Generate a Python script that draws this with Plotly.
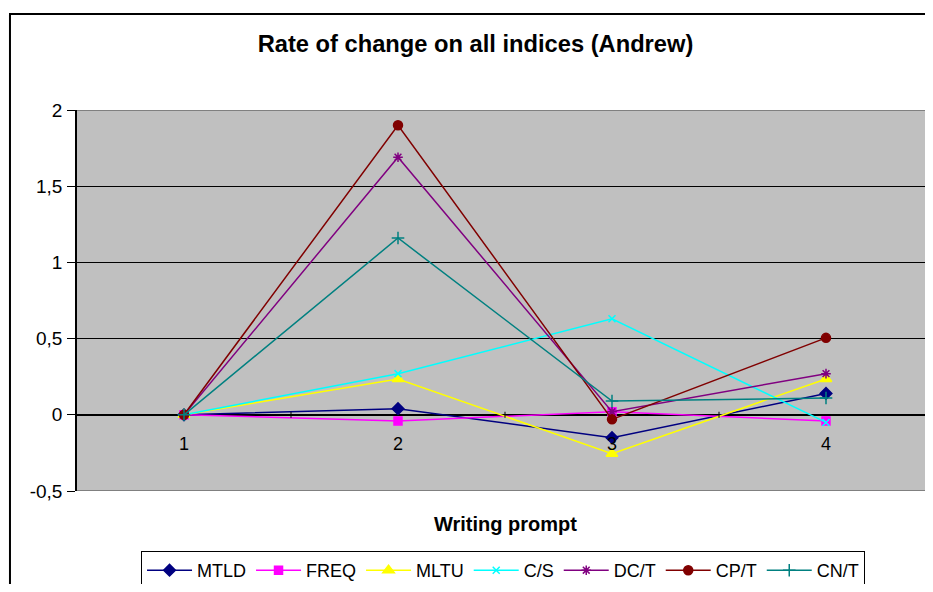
import plotly.graph_objects as go

# writing prompts (categories)
prompts = [1, 2, 3, 4]

# rate of change per index
mtld = [0.0, 0.04, -0.15, 0.14]
freq = [0.0, -0.04, 0.02, -0.04]
mltu = [0.0, 0.235, -0.255, 0.235]
c_s = [0.0, 0.27, 0.63, -0.05]
dc_t = [0.0, 1.69, 0.02, 0.27]
cp_t = [0.0, 1.90, -0.03, 0.505]
cn_t = [0.0, 1.16, 0.09, 0.11]

y_ticks = [-0.5, 0, 0.5, 1, 1.5, 2]
y_tick_text = ["-0,5", "0", "0,5", "1", "1,5", "2"]

FONT = "Liberation Sans, Arial, sans-serif"

series = [
    ("MTLD", mtld, "#000080", "diamond", 9),
    ("FREQ", freq, "#FF00FF", "square", 8),
    ("MLTU", mltu, "#FFFF00", "triangle-up", 10),
    ("C/S", c_s, "#00FFFF", "x-thin-open", 7),
    ("DC/T", dc_t, "#800080", "asterisk-open", 8),
    ("CP/T", cp_t, "#800000", "circle", 9),
    ("CN/T", cn_t, "#008080", "cross-thin-open", 9),
]

fig = go.Figure()
for name, vals, color, sym, size in series:
    fig.add_trace(go.Scatter(
        x=prompts, y=vals, name=name, mode="lines+markers",
        line=dict(color=color, width=1.5),
        marker=dict(symbol=sym, size=size, color=color,
                    line=dict(color=color, width=1.5)),
    ))

shapes = []
# small tick marks crossing the zero line between categories
for a, b in zip(prompts[:-1], prompts[1:]):
    mid = (a + b) / 2
    shapes.append(dict(type="line", xref="x", yref="y", x0=mid, x1=mid,
                       y0=-0.02, y1=0.02, line=dict(color="black", width=1)))
# gray top / bottom border of plot area
for yv in (y_ticks[0], y_ticks[-1]):
    shapes.append(dict(type="line", xref="paper", yref="y", x0=0, x1=1,
                       y0=yv, y1=yv, line=dict(color="#808080", width=2)))
# outer chart border
shapes.append(dict(type="rect", xref="paper", yref="paper",
                   x0=-0.0783, x1=1.05, y0=-0.4, y1=1.252,
                   line=dict(color="black", width=2), layer="below"))

annotations = [
    dict(x=p, y=0, xref="x", yref="y", text=str(p), showarrow=False,
         yshift=-29, font=dict(size=18, color="black", family=FONT))
    for p in prompts
]
annotations.append(dict(x=0.5, y=-0.0866, xref="paper", yref="paper",
                        text="<b>Writing prompt</b>", showarrow=False,
                        yanchor="middle",
                        font=dict(size=20, color="black", family=FONT)))

fig.update_layout(
    width=925, height=576,
    margin=dict(l=69, r=0, t=102, b=93, autoexpand=False),
    paper_bgcolor="white", plot_bgcolor="#C0C0C0",
    font=dict(family=FONT, color="black"),
    title=dict(text="<b>Rate of change on all indices (Andrew)</b>",
               x=467.5 / 925, xref="container", xanchor="center",
               y=1 - 36 / 576, yref="container", yanchor="middle",
               font=dict(size=23.7, color="black", family=FONT)),
    xaxis=dict(range=[0.5, 4.5], showgrid=False, zeroline=False,
               showticklabels=False, ticks="", fixedrange=True),
    yaxis=dict(range=[-0.5, 2], tickvals=y_ticks, ticktext=y_tick_text,
               showgrid=True, gridcolor="black", gridwidth=1,
               zeroline=True, zerolinecolor="black", zerolinewidth=1.5,
               showline=True, linecolor="black", linewidth=1.5,
               ticks="outside", ticklen=8, tickcolor="black",
               ticklabelstandoff=1,
               tickfont=dict(size=19, family=FONT, color="black")),
    showlegend=True,
    legend=dict(orientation="h", x=0.4977, xanchor="center",
                y=-0.1575, yanchor="top",
                bgcolor="white", bordercolor="black", borderwidth=1,
                font=dict(size=18, family=FONT, color="black"),
                itemwidth=45, tracegroupgap=0),
    shapes=shapes,
    annotations=annotations,
)

fig.write_html("out.html")
